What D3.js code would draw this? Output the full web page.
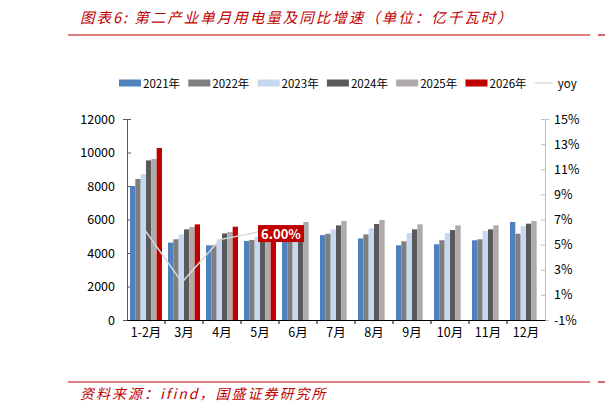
<!DOCTYPE html>
<html><head><meta charset="utf-8">
<script src="https://cdn.jsdelivr.net/npm/d3@7"></script>
<style>body{margin:0;background:#fff}svg{display:block}text{font-family:"Noto Sans CJK SC","Noto Sans",sans-serif}</style>
</head><body><svg id="c" width="605" height="413"></svg>
<script>
const categories = ["1-2月","3月","4月","5月","6月","7月","8月","9月","10月","11月","12月"];
const seriesNames = ["2021年","2022年","2023年","2024年","2025年","2026年"];
const colors = ["#4f81bd","#7f7f7f","#c6d9f1","#595959","#aeaaaa","#c00000"];
const v2021 = [8000,4620,4460,4720,5000,5070,4870,4460,4520,4760,5850];
const v2022 = [8420,4820,4460,4780,5200,5150,5110,4700,4760,4820,5150];
const v2023 = [8720,5110,4820,4960,5450,5410,5470,5190,5190,5310,5610];
const v2024 = [9530,5410,5170,5310,5650,5650,5730,5410,5370,5410,5750];
const v2025 = [9610,5550,5250,5270,5850,5910,5970,5710,5650,5650,5910];
const v2026 = [10270,5710,5570,5300];
const yoy = [6.25,2.0,5.4,6.0];
const leftTicks = [0,2000,4000,6000,8000,10000,12000];
const rightTicks = [-1,1,3,5,7,9,11,13,15];
const series = [v2021,v2022,v2023,v2024,v2025,v2026];

const svg = d3.select("#c");
const red = "#c00000";
svg.append("text").attr("x",80).attr("y",23).attr("fill",red).attr("font-size",14.5).attr("letter-spacing",2).attr("font-style","italic").text("图表6:  第二产业单月用电量及同比增速（单位：亿千瓦时）");
[35,382].forEach(yy=>{
  svg.append("line").attr("x1",68).attr("x2",590).attr("y1",yy).attr("y2",yy).attr("stroke",red).attr("stroke-width",1.2);
  svg.append("line").attr("x1",598).attr("x2",605).attr("y1",yy).attr("y2",yy).attr("stroke",red).attr("stroke-width",1.2);
});
svg.append("text").attr("x",80).attr("y",399).attr("fill",red).attr("font-size",14).attr("letter-spacing",2).attr("font-style","italic").text("资料来源：ifind，国盛证券研究所");

const x = d3.scaleBand().domain(categories).range([127,545]);
const y = d3.scaleLinear().domain([0,12000]).range([320,119]);
const yr = d3.scaleLinear().domain([-1,15]).range([320,119]);
const xs = d3.scaleBand().domain(d3.range(6)).range([3,35]).padding(0);

const fs = 12.5;
const la = svg.append("g").attr("transform","translate(127,0)").call(d3.axisLeft(y).tickValues(leftTicks).tickSize(4).tickFormat(d=>d));
la.selectAll("text").attr("font-size",fs).attr("fill","#000").attr("x",-12);
la.select(".domain").attr("stroke","#595959");la.selectAll(".tick line").attr("stroke","#595959").attr("x2",4);
const ra = svg.append("g").attr("transform","translate(545,0)").call(d3.axisRight(yr).tickValues(rightTicks).tickSize(4).tickFormat(d=>d+"%"));
ra.selectAll("text").attr("font-size",fs).attr("fill","#000").attr("x",9);
ra.select(".domain").attr("stroke","#bfbfbf");ra.selectAll(".tick line").attr("stroke","#bfbfbf").attr("x2",-4);

series.forEach((s,i)=>{
  svg.append("g").selectAll("rect").data(s).join("rect")
   .attr("x",(d,j)=>x(categories[j])+xs(i)).attr("width",xs.bandwidth())
   .attr("y",d=>y(d)).attr("height",d=>320-y(d)).attr("fill",colors[i]);
});
const xa = svg.append("g").attr("transform","translate(0,320)").call(d3.axisBottom(x).tickSize(0));
xa.select(".domain").attr("stroke","#000");
xa.selectAll("text").attr("font-size",fs).attr("fill","#000").attr("dy",14);
svg.append("g").selectAll("line").data(categories.slice(1)).join("line")
  .attr("x1",d=>x(d)).attr("x2",d=>x(d)).attr("y1",320).attr("y2",324).attr("stroke","#000");

const line = d3.line().x((d,i)=>x(categories[i])+x.bandwidth()/2-2).y(d=>yr(d));
svg.append("path").datum(yoy).attr("d",line).attr("fill","none").attr("stroke","#d9d9d9").attr("stroke-width",1.5);
const li = yoy.length-1;
const lx = x(categories[li])+x.bandwidth()/2-2, ly = yr(yoy[li]);
svg.append("rect").attr("x",lx).attr("y",ly-7).attr("width",46).attr("height",17).attr("fill",red);
svg.append("text").attr("x",lx+23).attr("y",ly+7).attr("text-anchor","middle").attr("fill","#fff").attr("font-weight","bold").attr("font-size",13).attr("font-family","Verdana, DejaVu Sans").text(yoy[li].toFixed(2)+"%");

const names = seriesNames.concat(["yoy"]);
names.forEach((n,i)=>{
  const g = svg.append("g").attr("transform",`translate(${119+i*69.3},83)`);
  if(i<6) g.append("rect").attr("x",0).attr("y",-3.5).attr("width",22).attr("height",7).attr("fill",colors[i]);
  else g.append("line").attr("x1",0).attr("x2",18).attr("y1",0).attr("y2",0).attr("stroke","#d9d9d9").attr("stroke-width",1.5);
  g.append("text").attr("x",i<6?24:23).attr("y",4.5).attr("font-size",11.5).attr("fill","#000").text(n);
});
</script></body></html>
